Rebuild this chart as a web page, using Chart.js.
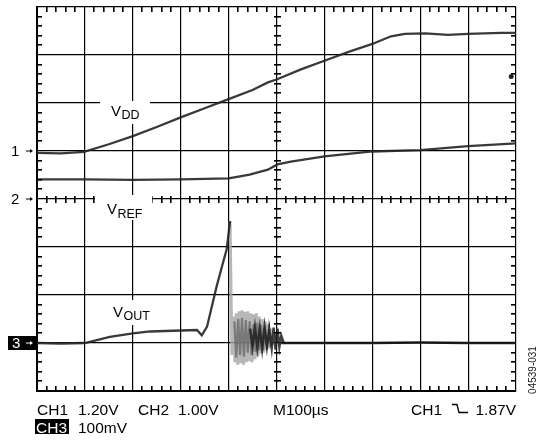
<!DOCTYPE html>
<html>
<head>
<meta charset="utf-8">
<script src="https://cdn.jsdelivr.net/npm/chart.js@4.4.0/dist/chart.umd.min.js"></script>
<style>
  html, body { margin: 0; padding: 0; background: #fff; }
</style>
</head>
<body>
<canvas id="scope" width="538" height="443"></canvas>
<script>
// horizontal position in divisions (M100us/div), vertical in divisions from the bottom edge
const vddTime  = [0, 0.5, 0.98, 1.5, 2.0, 2.5, 3.0, 3.5, 4.0, 4.5, 4.82, 5.0, 5.51, 6.0, 6.49, 7.0, 7.39, 7.68, 8.1, 8.58, 9.0, 9.69, 10];
const vddLevel = [4.96, 4.95, 4.98, 5.14, 5.31, 5.50, 5.70, 5.89, 6.08, 6.27, 6.43, 6.49, 6.70, 6.88, 7.06, 7.23, 7.39, 7.44, 7.45, 7.42, 7.44, 7.46, 7.46];
const vddGlitchTime = [9.9];
const vddGlitchLevel = [6.55];

const vrefTime  = [0, 1, 2, 3, 4.0, 4.44, 4.82, 5.02, 5.3, 6.0, 7.0, 8.0, 9.0, 10];
const vrefLevel = [4.41, 4.41, 4.40, 4.41, 4.43, 4.51, 4.61, 4.72, 4.78, 4.89, 4.99, 5.02, 5.10, 5.16];

const voutTime  = [0, 0.5, 1.0, 1.52, 2.0, 2.36, 3.0, 3.34, 3.44, 3.55, 3.65, 3.75, 3.86, 3.96, 4.03];
const voutLevel = [1.0, 0.99, 1.0, 1.13, 1.20, 1.24, 1.26, 1.27, 1.16, 1.34, 1.76, 2.18, 2.59, 2.95, 3.54];
const voutTailTime  = [5.1, 6, 7, 8, 9, 10];
const voutTailLevel = [1.0, 1.0, 1.0, 1.01, 1.0, 1.0];

// ringing after the spike (persistence trace)
const ringLightTime  = [4.03, 4.07, 4.1, 4.13, 4.16, 4.19, 4.22, 4.25, 4.28, 4.31, 4.34, 4.37, 4.40, 4.43, 4.46, 4.49, 4.52, 4.55, 4.58, 4.61, 4.64, 4.67, 4.70, 4.73, 4.76, 4.79, 4.82, 4.85, 4.88, 4.91];
const ringLightLevel = [3.54, 0.75, 1.55, 0.6, 1.62, 0.55, 1.66, 0.58, 1.68, 0.55, 1.65, 0.6, 1.66, 0.62, 1.62, 0.6, 1.6, 0.66, 1.62, 0.72, 1.55, 0.78, 1.5, 0.8, 1.45, 0.85, 1.4, 0.88, 1.3, 0.95];
const ringMidTime  = [4.12, 4.16, 4.2, 4.24, 4.28, 4.32, 4.36, 4.4, 4.44, 4.48, 4.52, 4.56, 4.6, 4.64, 4.68, 4.72, 4.76, 4.8, 4.84, 4.88];
const ringMidLevel = [1.45, 0.7, 1.5, 0.75, 1.52, 0.72, 1.48, 0.8, 1.45, 0.75, 1.4, 0.82, 1.42, 0.85, 1.38, 0.85, 1.35, 0.9, 1.3, 0.92];
const ringDarkTime  = [4.45, 4.5, 4.55, 4.6, 4.65, 4.7, 4.75, 4.8, 4.85, 4.9, 4.94, 4.98, 5.02, 5.06, 5.1, 5.15];
const ringDarkLevel = [1.3, 0.92, 1.32, 0.9, 1.3, 0.88, 1.33, 0.92, 1.28, 0.9, 1.32, 0.86, 1.3, 0.92, 1.15, 1.0];

const channelMarks = [
  { text: '1', level: 5, boxed: false },
  { text: '2', level: 4, boxed: false },
  { text: '3', level: 1, boxed: true }
];

const toPoints = (xs, ys) => xs.map((x, i) => ({ x: x, y: ys[i] }));

const FONT = '"Liberation Sans", Arial, sans-serif';

function drawArrow(ctx, x0, x1, y, color) {
  ctx.strokeStyle = color;
  ctx.fillStyle = color;
  ctx.lineWidth = 1;
  ctx.beginPath();
  ctx.moveTo(x0, y);
  ctx.lineTo(x1 - 2, y);
  ctx.stroke();
  ctx.beginPath();
  ctx.moveTo(x1, y);
  ctx.lineTo(x1 - 3, y - 2);
  ctx.lineTo(x1 - 3, y + 2);
  ctx.closePath();
  ctx.fill();
}

function subLabel(ctx, main, sub, x, yMain, ySub, box) {
  ctx.fillStyle = '#fff';
  ctx.fillRect(box[0], box[1], box[2], box[3]);
  ctx.fillStyle = '#000';
  ctx.textAlign = 'left';
  ctx.textBaseline = 'alphabetic';
  ctx.font = '15px ' + FONT;
  ctx.fillText(main, x, yMain);
  const w = ctx.measureText(main).width;
  ctx.font = '12.5px ' + FONT;
  ctx.fillText(sub, x + w + 0.5, ySub);
}

// minor division ticks on the frame and on the centre cross
function drawMinorTicks(chart) {
  const { ctx } = chart;
  const x = chart.scales.x, y = chart.scales.y;
  const top = Math.round(y.top), bottom = Math.round(y.bottom);
  const left = Math.round(x.left), right = Math.round(x.right);
  const cy = Math.round(y.getPixelForValue(4));
  const cx = Math.round(x.getPixelForValue(5));
  ctx.save();
  ctx.fillStyle = '#000';
  for (let i = 1; i < 50; i++) {
    if (i % 5 === 0) continue;
    const px = Math.round(x.getPixelForValue(i / 5));
    ctx.fillRect(px - 1, top, 1.6, 5);
    ctx.fillRect(px - 1, bottom - 5, 1.6, 5);
    ctx.fillRect(px - 1, cy - 3, 1.6, 7);
  }
  for (let i = 1; i < 40; i++) {
    if (i % 5 === 0) continue;
    const py = Math.round(y.getPixelForValue(i / 5));
    ctx.fillRect(left, py - 1, 5, 1.6);
    ctx.fillRect(right - 5, py - 1, 5, 1.6);
    ctx.fillRect(cx - 3, py - 1, 7, 1.6);
  }
  ctx.restore();
}

function drawLabels(chart) {
  const { ctx } = chart;
  const y = chart.scales.y;
  ctx.save();

  // trace labels
  subLabel(ctx, 'V', 'DD', 111, 116, 119, [100, 101, 50, 23]);
  subLabel(ctx, 'V', 'REF', 107, 214, 218, [95, 195, 57, 25]);
  subLabel(ctx, 'V', 'OUT', 113, 317, 320, [105, 300, 50, 25]);

  // channel ground markers
  channelMarks.forEach(m => {
    const py = y.getPixelForValue(m.level);
    ctx.font = '15px ' + FONT;
    ctx.textBaseline = 'middle';
    ctx.textAlign = 'left';
    if (m.boxed) {
      ctx.fillStyle = '#000';
      ctx.fillRect(8, py - 7, 28, 14);
      ctx.fillStyle = '#fff';
      ctx.fillText(m.text, 12, py + 0.5);
      drawArrow(ctx, 26, 33, py, '#fff');
    } else {
      ctx.fillStyle = '#000';
      ctx.fillText(m.text, 11, py + 0.5);
      drawArrow(ctx, 26, 33, py, '#000');
    }
  });

  // settings readout
  ctx.fillStyle = '#000';
  ctx.textBaseline = 'alphabetic';
  ctx.font = '15.5px ' + FONT;
  ctx.fillText('CH1', 37, 415);
  ctx.fillText('1.20V', 78, 415);
  ctx.fillText('CH2', 138, 415);
  ctx.fillText('1.00V', 178, 415);
  ctx.fillText('M100\u00b5s', 273, 415);
  ctx.fillText('CH1', 411, 415);
  ctx.textAlign = 'right';
  ctx.fillText('1.87V', 516, 415);
  ctx.textAlign = 'left';

  // falling edge trigger symbol
  ctx.strokeStyle = '#000';
  ctx.lineWidth = 1.3;
  ctx.beginPath();
  ctx.moveTo(452, 404.5);
  ctx.lineTo(457, 404.5);
  ctx.lineTo(459, 412.5);
  ctx.lineTo(468, 412.5);
  ctx.stroke();

  ctx.fillRect(35, 419, 34, 15);
  ctx.fillStyle = '#fff';
  ctx.fillText('CH3', 36, 433);
  ctx.fillStyle = '#000';
  ctx.fillText('100mV', 78, 433);

  // figure number
  ctx.translate(533, 370);
  ctx.rotate(-Math.PI / 2);
  ctx.font = '10px ' + FONT;
  ctx.textAlign = 'center';
  ctx.textBaseline = 'middle';
  ctx.fillStyle = '#222';
  ctx.fillText('04539-031', 0, 0);
  ctx.restore();
}

const scopeDecor = {
  id: 'scopeDecor',
  afterDraw(chart) {
    drawMinorTicks(chart);
    drawLabels(chart);
  }
};

const traceStyle = (color, width) => ({
  borderColor: color,
  borderWidth: width,
  pointRadius: 0,
  tension: 0,
  fill: false
});

new Chart(document.getElementById('scope').getContext('2d'), {
  type: 'line',
  data: {
    datasets: [
      Object.assign({ label: 'VDD', data: toPoints(vddTime, vddLevel) }, traceStyle('rgba(35,35,35,0.9)', 2.3)),
      Object.assign({ label: 'VDD glitch', data: toPoints(vddGlitchTime, vddGlitchLevel), showLine: false, pointRadius: 2.5, pointBackgroundColor: '#222', pointBorderWidth: 0 }),
      Object.assign({ label: 'VREF', data: toPoints(vrefTime, vrefLevel) }, traceStyle('rgba(35,35,35,0.9)', 2.3)),
      Object.assign({ label: 'VOUT', data: toPoints(voutTime, voutLevel) }, traceStyle('rgba(35,35,35,0.9)', 2.3)),
      Object.assign({ label: 'VOUT settled', data: toPoints(voutTailTime, voutTailLevel) }, traceStyle('rgba(20,20,20,0.95)', 2.3)),
      Object.assign({ label: 'ring dark', data: toPoints(ringDarkTime, ringDarkLevel) }, traceStyle('rgba(30,30,30,0.85)', 2.5)),
      Object.assign({ label: 'ring mid', data: toPoints(ringMidTime, ringMidLevel) }, traceStyle('rgba(100,100,100,0.75)', 2.2)),
      Object.assign({ label: 'ring light', data: toPoints(ringLightTime, ringLightLevel) }, traceStyle('rgba(165,165,165,0.8)', 3))
    ]
  },
  options: {
    responsive: false,
    animation: false,
    devicePixelRatio: 1,
    layout: { padding: { left: 37, top: 7, right: 22, bottom: 52 } },
    plugins: { legend: { display: false }, tooltip: { enabled: false } },
    scales: {
      x: {
        type: 'linear', min: 0, max: 10,
        ticks: { display: false, stepSize: 1 },
        grid: { color: '#000', lineWidth: 1.2, drawTicks: false },
        border: { color: '#000', width: 2 }
      },
      y: {
        type: 'linear', min: 0, max: 8,
        ticks: { display: false, stepSize: 1 },
        grid: { color: '#000', lineWidth: 1.2, drawTicks: false },
        border: { color: '#000', width: 2 }
      }
    }
  },
  plugins: [scopeDecor]
});
</script>
</body>
</html>
